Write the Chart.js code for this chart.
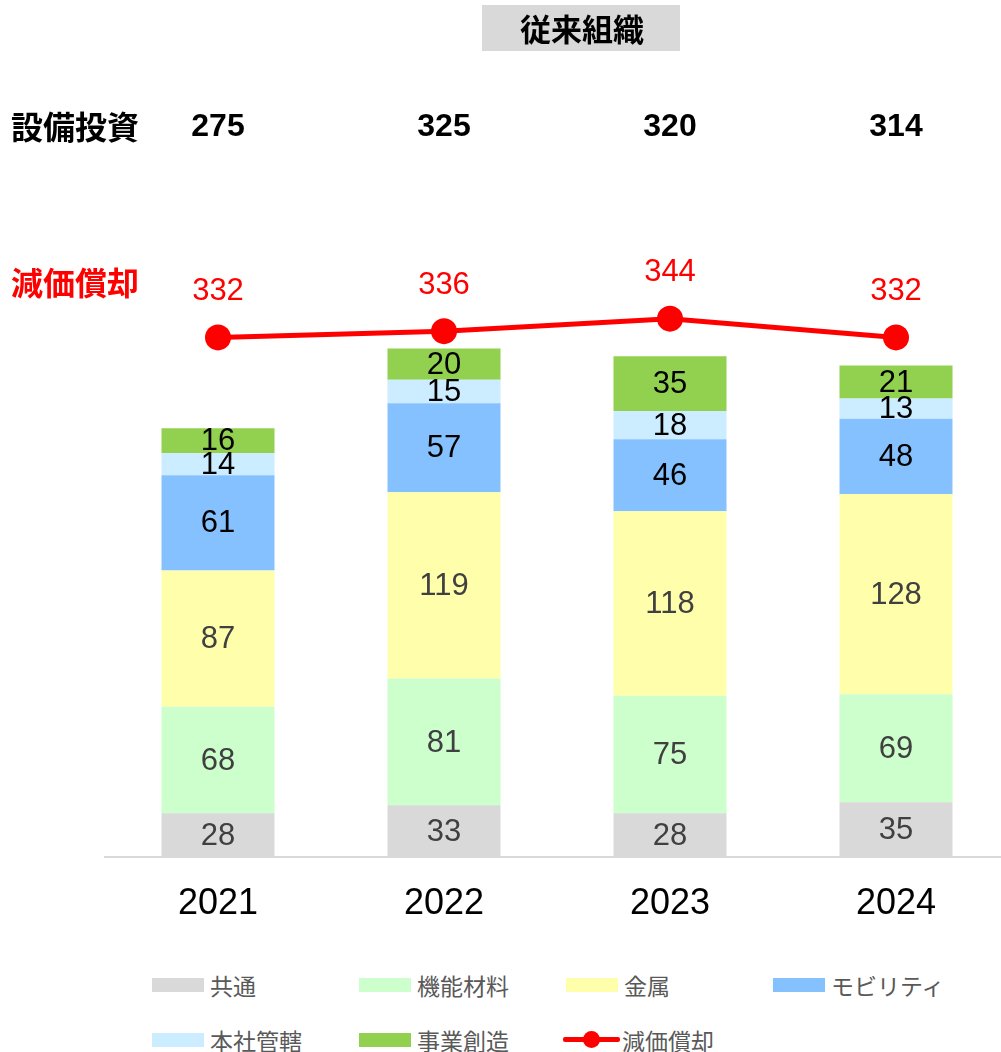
<!DOCTYPE html>
<html>
<head>
<meta charset="utf-8">
<script src="https://cdn.jsdelivr.net/npm/chart.js@4.4.1/dist/chart.umd.min.js"></script>
<style>
  body { margin: 0; width: 1001px; height: 1052px; overflow: hidden; position: relative; background: #fff; }
  #wrap { position: absolute; left: 0; top: 0; width: 1022px; height: 940px; }
  #legend { position: absolute; left: 152px; top: 957px; display: grid; grid-template-columns: 207px 207px 207px 207px; grid-auto-rows: 55px; font-family: "Noto Sans CJK JP", sans-serif; font-size: 23px; color: #595959; }
  .item { display: flex; align-items: center; height: 55px; }
  .box { width: 52px; height: 14px; margin-right: 6px; flex: none; }
  .lineKey { position: relative; width: 57px; height: 17px; margin-right: 2px; margin-left: -3px; flex: none; }
  .lineKey:before { content: ""; position: absolute; left: 0; right: 0; top: 6px; height: 5px; border-radius: 2px; background: #ff0000; }
  .lineKey:after { content: ""; position: absolute; left: 20px; top: 0; width: 17px; height: 17px; border-radius: 50%; background: #ff0000; }
</style>
</head>
<body>
<div id="wrap"><canvas id="chart"></canvas></div>
<div id="legend"></div>
<script>
// data
const years = ['2021', '2022', '2023', '2024'];
const kyotsu = [28, 33, 28, 35];        // 共通
const kinou = [68, 81, 75, 69];         // 機能材料
const kinzoku = [87, 119, 118, 128];    // 金属
const mobility = [61, 57, 46, 48];      // モビリティ
const honsha = [14, 15, 18, 13];        // 本社管轄
const jigyo = [16, 20, 35, 21];         // 事業創造
const genka = [332, 336, 344, 332];     // 減価償却
const setsubi = [275, 325, 320, 314];   // 設備投資

const barSeries = [
    { label: '共通', data: kyotsu, color: '#d9d9d9', text: '#404040' },
    { label: '機能材料', data: kinou, color: '#ccffcc', text: '#404040' },
    { label: '金属', data: kinzoku, color: '#ffffab', text: '#404040' },
    { label: 'モビリティ', data: mobility, color: '#85c1ff', text: '#000' },
    { label: '本社管轄', data: honsha, color: '#ccecff', text: '#000' },
    { label: '事業創造', data: jigyo, color: '#92d050', text: '#000' }
];

const NUM = '"Liberation Sans", Arial, sans-serif';
const JP = '"Noto Sans CJK JP", sans-serif';

const labelsPlugin = {
    id: 'labels',
    afterDatasetsDraw(chart) {
        const ctx = chart.ctx;
        const xs = chart.scales.x;
        ctx.save();
        ctx.textAlign = 'center';
        ctx.textBaseline = 'middle';

        // segment labels
        barSeries.forEach((s, i) => {
            const meta = chart.getDatasetMeta(i);
            ctx.font = '31px ' + NUM;
            ctx.fillStyle = s.text;
            meta.data.forEach((bar, j) => {
                const mid = (bar.y + bar.base) / 2;
                ctx.fillText(String(s.data[j]), bar.x, mid + 1);
            });
        });

        // line labels
        const lineMeta = chart.getDatasetMeta(barSeries.length);
        ctx.font = '31px ' + NUM;
        ctx.fillStyle = '#ff0000';
        lineMeta.data.forEach((pt, j) => {
            ctx.fillText(String(genka[j]), pt.x, pt.y - 46);
        });

        // header
        ctx.fillStyle = '#d9d9d9';
        ctx.fillRect(482, 5, 198, 46);
        ctx.fillStyle = '#000';
        ctx.font = 'bold 31px ' + JP;
        ctx.fillText('従来組織', 582, 29);

        ctx.textAlign = 'left';
        ctx.font = 'bold 32px ' + JP;
        ctx.fillText('設備投資', 11, 127);
        ctx.fillStyle = '#ff0000';
        ctx.fillText('減価償却', 11, 283);

        ctx.textAlign = 'center';
        ctx.fillStyle = '#000';
        ctx.font = 'bold 32px ' + NUM;
        setsubi.forEach((v, j) => {
            ctx.fillText(String(v), xs.getPixelForValue(j), 127);
        });
        ctx.restore();
    }
};

const datasets = barSeries.map(s => ({
    type: 'bar',
    label: s.label,
    data: s.data,
    backgroundColor: s.color,
    borderWidth: 0,
    order: 1
}));
datasets.push({
    type: 'line',
    label: '減価償却',
    data: genka,
    borderColor: '#ff0000',
    backgroundColor: '#ff0000',
    borderWidth: 5,
    pointRadius: 13,
    pointHoverRadius: 13,
    pointBackgroundColor: '#ff0000',
    pointBorderWidth: 0,
    tension: 0,
    stack: 'line',
    order: 0
});

new Chart(document.getElementById('chart').getContext('2d'), {
    type: 'bar',
    data: { labels: years, datasets: datasets },
    options: {
        responsive: true,
        maintainAspectRatio: false,
        animation: false,
        layout: { padding: { left: 105, right: 0, top: 231, bottom: 23 } },
        plugins: { legend: { display: false }, tooltip: { enabled: false } },
        datasets: { bar: { barPercentage: 1, categoryPercentage: 0.5 } },
        scales: {
            x: {
                stacked: true,
                grid: { display: false, drawTicks: false },
                border: { display: true, color: '#d9d9d9', width: 2 },
                ticks: { color: '#000', font: { family: NUM, size: 36 }, padding: 25 },
                afterFit(scale) { scale.height = 60; }
            },
            y: {
                stacked: true,
                display: false,
                min: 0,
                max: 400
            }
        }
    },
    plugins: [labelsPlugin]
});

// legend
const legend = document.getElementById('legend');
barSeries.forEach(s => {
    const el = document.createElement('div');
    el.className = 'item';
    el.innerHTML = '<span class="box" style="background:' + s.color + '"></span><span>' + s.label + '</span>';
    legend.appendChild(el);
});
const lineItem = document.createElement('div');
lineItem.className = 'item';
lineItem.innerHTML = '<span class="lineKey"></span><span>減価償却</span>';
legend.appendChild(lineItem);
</script>
</body>
</html>
